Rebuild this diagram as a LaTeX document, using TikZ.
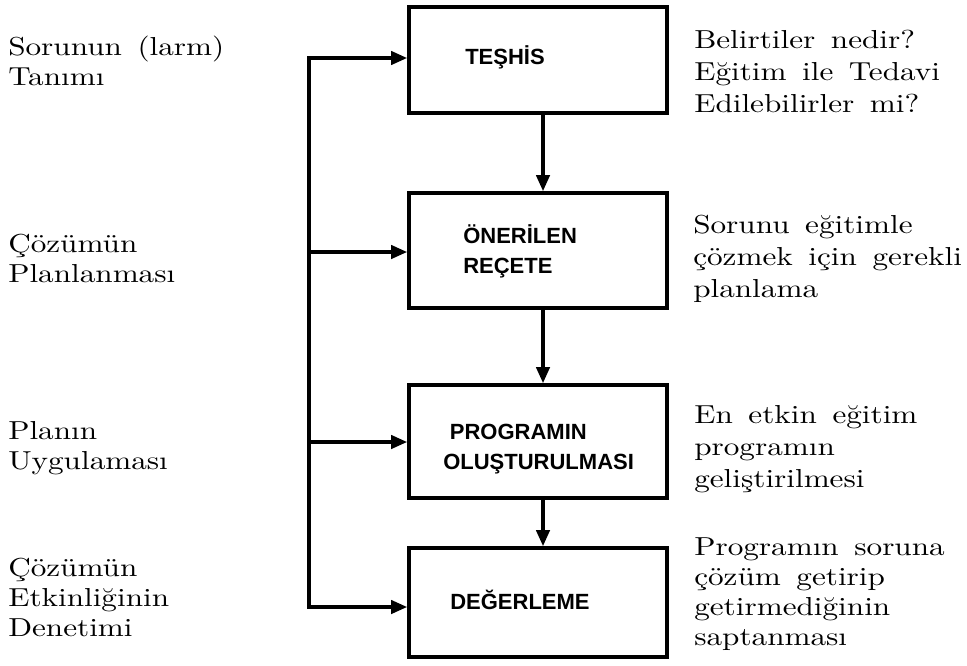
\documentclass[tikz,border=0pt]{standalone}
\usepackage{fontspec}
\usepackage{tikz}
\usetikzlibrary{arrows.meta}
\newfontfamily\kutufont{Liberation Sans}
\newfontfamily\yazifont{lmroman10-regular.otf}[FakeStretch=1.2,WordSpace=1.5]
\newcommand\ustboy{\rule{0pt}{16pt}}

\begin{document}
\begin{tikzpicture}[x=0.75pt,y=0.75pt,yscale=-1,xscale=1,
  kutu/.style={draw,line width=2.8pt,minimum width=193.5pt,inner sep=0pt},
  kutuyazi/.style={anchor=west,inner sep=0pt,align=left,font=\kutufont\bfseries\fontsize{16.5}{22.5}\selectfont},
  yazi/.style={anchor=north west,inner sep=0pt,align=left,font=\yazifont\fontsize{19.5}{22.5}\selectfont},
  yazisag/.style={yazi,font=\yazifont\fontsize{19.5}{24}\selectfont},
  hat/.style={line width=2.4pt,line cap=rect},
  ok/.style={line width=2.4pt,-{Triangle[length=12pt,width=10pt]}}]
\useasboundingbox (0,0) rectangle (967,665);
\node[kutu,minimum height=79.5pt] (teshis) at (538,60) {};
\node[kutu,minimum height=86.25pt] (recete) at (538,250.5) {};
\node[kutu,minimum height=84.75pt] (program) at (538,441.5) {};
\node[kutu,minimum height=81.75pt] (degerleme) at (538,602.5) {};
\node[kutuyazi] (tTeshis) at (465,57) {TEŞHİS};
\node[kutuyazi] (tRecete) at (463,251) {ÖNERİLEN\\REÇETE};
\node[kutuyazi] (tProgram) at (443,449) {\hspace{5pt}PROGRAMIN\\OLUŞTURULMASI};
\node[kutuyazi] (tDeger) at (450,600) {DEĞERLEME};
\draw[ok] ([xshift=3.75pt]teshis.south) -- ([xshift=3.75pt]recete.north);
\draw[ok] ([xshift=3.75pt]recete.south) -- ([xshift=3.75pt]program.north);
\draw[ok] ([xshift=3.75pt]program.south) -- ([xshift=3.75pt]degerleme.north);
\coordinate (h1) at (309,58);
\coordinate (h2) at (309,252);
\coordinate (h3) at (309,442);
\coordinate (h4) at (309,607);
\draw[hat] (h1) -- (h4);
\foreach \c/\k in {h1/teshis,h2/recete,h3/program,h4/degerleme}
  \draw[ok] (\c) -- (\c -| \k.west);
\node[yazi] (lTanim) at (8,33.7) {\ustboy Sorunun (larm)\\Tanımı};
\node[yazi] (lPlan) at (8,230.7) {\ustboy Çözümün\\Planlanması};
\node[yazi] (lUygula) at (8,417.7) {\ustboy Planın\\Uygulaması};
\node[yazi] (lDenetim) at (8,554.7) {\ustboy Çözümün\\Etkinliğinin\\Denetimi};
\node[yazisag] (rTeshis) at (694,26.7) {\ustboy Belirtiler nedir?\\Eğitim ile Tedavi\\Edilebilirler mi?};
\node[yazisag] (rRecete) at (693,211.7) {\ustboy Sorunu eğitimle\\çözmek için gerekli\\planlama};
\node[yazisag] (rProgram) at (694,401.7) {\ustboy En etkin eğitim\\programın\\geliştirilmesi};
\node[yazi] (rDeger) at (694,533.7) {\ustboy Programın soruna\\çözüm getirip\\getirmediğinin\\saptanması};
\end{tikzpicture}
\end{document}
